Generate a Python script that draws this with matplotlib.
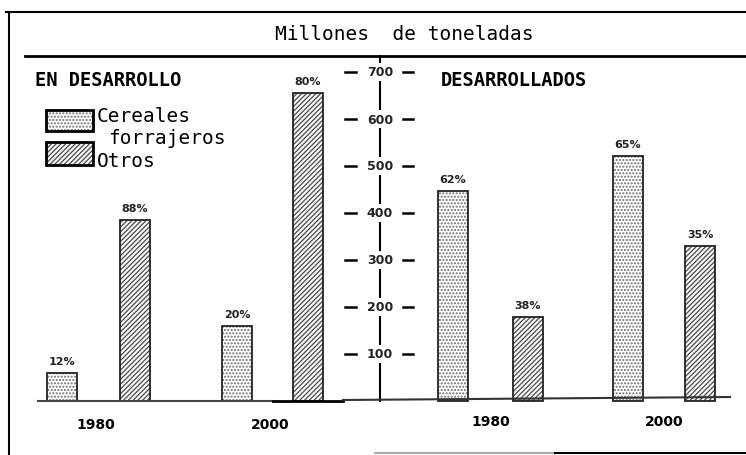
import matplotlib.pyplot as plt
from matplotlib.patches import Rectangle

# Data (millones de toneladas)
grupos = ['EN DESARROLLO', 'DESARROLLADOS']
anios = ['1980', '2000']
cereales_dev = [60, 160]
otros_dev = [385, 655]
cereales_ind = [447, 521]
otros_ind = [179, 330]
pct_cereales_dev = ['12%', '20%']
pct_otros_dev = ['88%', '80%']
pct_cereales_ind = ['62%', '65%']
pct_otros_ind = ['38%', '35%']
ticks = [100, 200, 300, 400, 500, 600, 700]

# Layout: the axes covers the whole figure, x in pixels, y in value units
W, H = 746, 456
Y0 = 402        # pixel row of value 0
PX = 0.47       # pixels per unit


def vy(p):
    # pixel row -> value units
    return (Y0 - p) / PX


plt.rcParams['hatch.linewidth'] = 1.0
fig = plt.figure(figsize=(W / 100, H / 100), dpi=100)
ax = fig.add_axes([0, 0, 1, 1])
ax.set_xlim(0, W)
ax.set_ylim(vy(H), vy(0))
ax.axis('off')

MONO = 'DejaVu Sans Mono'
BW = 30
DOTS, DOT_COL = '.....', '#6e6e6e'
LINES, LINE_COL = '///////', '#555555'

# x centres of bars
x_cer_dev = [62, 237]
x_otr_dev = [134.5, 307.5]
x_cer_ind = [453, 628]
x_otr_ind = [527.5, 700]


def draw_bars(xs, vals, hatch, hcol):
    ax.bar(xs, vals, width=BW, color='white', edgecolor=hcol, hatch=hatch, linewidth=0, zorder=2)
    ax.bar(xs, vals, width=BW, fill=False, edgecolor='#222222', linewidth=1.3, zorder=3)


draw_bars(x_cer_dev, cereales_dev, DOTS, DOT_COL)
draw_bars(x_otr_dev, otros_dev, LINES, LINE_COL)
draw_bars(x_cer_ind, cereales_ind, DOTS, DOT_COL)
draw_bars(x_otr_ind, otros_ind, LINES, LINE_COL)

# percentage labels
for xs, vals, labs in [(x_cer_dev, cereales_dev, pct_cereales_dev),
                       (x_otr_dev, otros_dev, pct_otros_dev),
                       (x_cer_ind, cereales_ind, pct_cereales_ind),
                       (x_otr_ind, otros_ind, pct_otros_ind)]:
    for x, v, l in zip(xs, vals, labs):
        ax.text(x, v + 12 / PX, l, ha='center', va='center', fontsize=8,
                fontweight='bold', color='#222222')

# baselines
ax.plot([38, 273], [0, 0], color='#444444', lw=1.5, zorder=4)
ax.plot([273, 343], [0, 0], color='black', lw=2, zorder=4)
ax.plot([343, 730], [vy(401), vy(398)], color='#333333', lw=1.5, zorder=4)

# central value axis
AX_X = 380
ax.plot([AX_X, AX_X], [vy(57), 0], color='black', lw=1.5, zorder=1)
for t in ticks:
    ax.text(AX_X, t, str(t), ha='center', va='center', fontsize=9,
            fontweight='bold', color='#222222', zorder=5,
            bbox=dict(facecolor='white', edgecolor='none', pad=1.5))
    ax.plot([345, 356], [t, t], color='black', lw=1.8, zorder=4)
    ax.plot([403, 413], [t, t], color='black', lw=1.8, zorder=4)

# year labels
for x, a in zip([96, 270], anios):
    ax.text(x, vy(425), a, ha='center', va='center', fontsize=10, fontweight='bold')
for x, a in zip([491, 664], anios):
    ax.text(x, vy(422), a, ha='center', va='center', fontsize=10, fontweight='bold')

# group headings
ax.text(35, vy(80), grupos[0], ha='left', va='center', fontsize=13.5,
        fontweight='bold', family=MONO)
ax.text(441, vy(80), grupos[1], ha='left', va='center', fontsize=13.5,
        fontweight='bold', family=MONO)

# title and frame
ax.text(404, vy(35), 'Millones  de toneladas', ha='center', va='center',
        fontsize=14, family=MONO)
ax.plot([6, W], [vy(13), vy(13)], color='black', lw=1.5)
ax.plot([25, W], [vy(57), vy(57)], color='black', lw=2)
ax.plot([9, 9], [vy(13), vy(H)], color='black', lw=1.5)
ax.plot([375, 555], [vy(454), vy(454)], color='#aaaaaa', lw=1.5)
ax.plot([555, W], [vy(454), vy(454)], color='black', lw=1.5)

# legend
for (y_top, y_bot), hatch, hcol in [((111, 132), DOTS, DOT_COL),
                                    ((143, 166), LINES, LINE_COL)]:
    ax.add_patch(Rectangle((46, vy(y_bot)), 47, vy(y_top) - vy(y_bot),
                           facecolor='white', edgecolor=hcol, hatch=hatch, lw=0))
    ax.add_patch(Rectangle((46, vy(y_bot)), 47, vy(y_top) - vy(y_bot),
                           fill=False, edgecolor='black', lw=2))
ax.text(97, vy(117), 'Cereales', ha='left', va='center', fontsize=14, family=MONO)
ax.text(108, vy(139), 'forrajeros', ha='left', va='center', fontsize=14, family=MONO)
ax.text(97, vy(162), 'Otros', ha='left', va='center', fontsize=14, family=MONO)

fig.savefig('out.png', dpi=100)
